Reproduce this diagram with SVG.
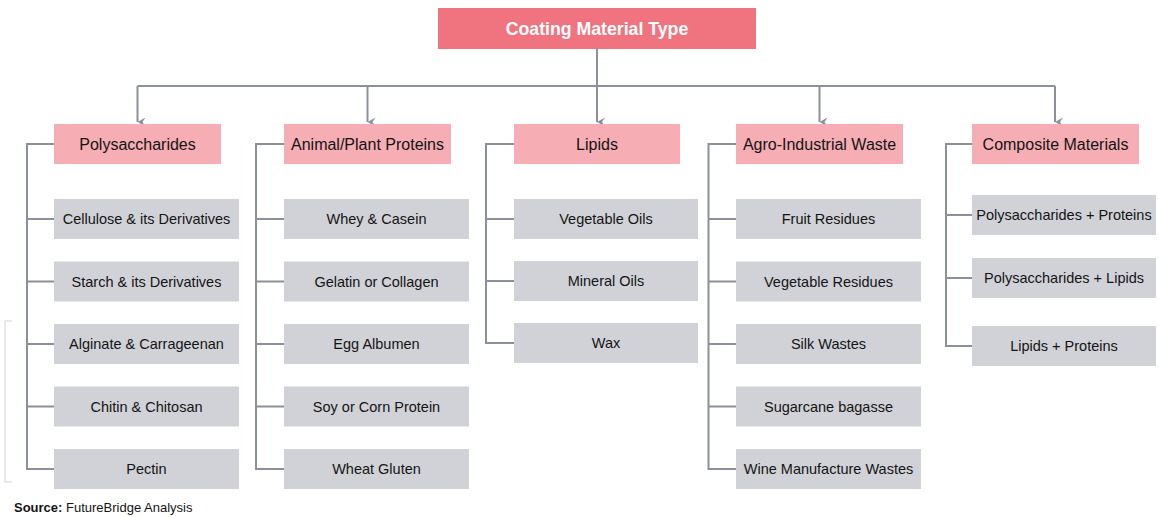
<svg xmlns="http://www.w3.org/2000/svg" width="1159" height="517" viewBox="0 0 1159 517">
<defs>
<style>
.title{fill:#F07380}
.cat{fill:#F6ADB4}
.item{fill:#D1D2D7}
.tt{font-family:"Liberation Sans",Arial,sans-serif;font-weight:bold;font-size:17.7px;fill:#ffffff;text-anchor:middle}
.ct{font-family:"Liberation Sans",Arial,sans-serif;font-size:16px;fill:#141414;text-anchor:middle}
.it{font-family:"Liberation Sans",Arial,sans-serif;font-size:14.5px;fill:#141414;text-anchor:middle}
.ln{fill:none;stroke:#8C909A;stroke-width:2}
.src{font-family:"Liberation Sans",Arial,sans-serif;font-size:13px;fill:#141414}
</style>
<marker id="arr" viewBox="0 0 10 10" refX="5" refY="10" markerWidth="10" markerHeight="10" markerUnits="userSpaceOnUse" orient="auto-start-reverse">
<path d="M0.5,2 L5,10 L9.5,2 L5,5 Z" fill="#8C909A"/>
</marker>
</defs>
<rect width="1159" height="517" fill="#ffffff"/>

<g id="connectors">
<path class="ln" d="M597,49 V86"/>
<path class="ln" d="M137.5,86 H1055"/>
<path class="ln" d="M137.5,86 V122" marker-end="url(#arr)"/>
<path class="ln" d="M367.5,86 V122" marker-end="url(#arr)"/>
<path class="ln" d="M597,86 V122" marker-end="url(#arr)"/>
<path class="ln" d="M819.5,86 V122" marker-end="url(#arr)"/>
<path class="ln" d="M1055,86 V122" marker-end="url(#arr)"/>
<path class="ln" d="M54,144 H27 V469 H54 M27,219 H54 M27,281.5 H54 M27,344 H54 M27,406.5 H54"/>
<path class="ln" d="M284,144 H256 V469 H284 M256,219 H284 M256,281.5 H284 M256,344 H284 M256,406.5 H284"/>
<path class="ln" d="M514,144 H486 V343 H514 M486,219 H514 M486,281 H514"/>
<path class="ln" d="M736,144 H708.5 V469 H736 M708.5,219 H736 M708.5,281.5 H736 M708.5,344 H736 M708.5,406.5 H736"/>
<path class="ln" d="M972,144 H946 V346 H972 M946,215 H972 M946,278 H972"/>
</g>
<path d="M12,321 H5 V482 H12" fill="none" stroke="#e2e2e2" stroke-width="1.5"/>

<g id="root"><rect class="title" x="438" y="8" width="318" height="41"/><text class="tt" x="597" y="35">Coating Material Type</text></g>

<g id="cat-polysaccharides"><rect class="cat" x="54" y="124" width="167" height="40"/><text class="ct" x="137.5" y="149.7">Polysaccharides</text></g>
<g id="cat-proteins"><rect class="cat" x="284" y="124" width="167" height="40"/><text class="ct" x="367.5" y="149.7">Animal/Plant Proteins</text></g>
<g id="cat-lipids"><rect class="cat" x="514" y="124" width="166" height="40"/><text class="ct" x="597" y="149.7">Lipids</text></g>
<g id="cat-agro"><rect class="cat" x="736" y="124" width="167" height="40"/><text class="ct" x="819.5" y="149.7">Agro-Industrial Waste</text></g>
<g id="cat-composite"><rect class="cat" x="972" y="124" width="167" height="40"/><text class="ct" x="1055.5" y="149.7">Composite Materials</text></g>

<g id="p1"><rect class="item" x="54" y="199" width="185" height="40"/><text class="it" x="146.5" y="224.2">Cellulose &amp; its Derivatives</text></g>
<g id="p2"><rect class="item" x="54" y="261.5" width="185" height="40"/><text class="it" x="146.5" y="286.7">Starch &amp; its Derivatives</text></g>
<g id="p3"><rect class="item" x="54" y="324" width="185" height="40"/><text class="it" x="146.5" y="349.2">Alginate &amp; Carrageenan</text></g>
<g id="p4"><rect class="item" x="54" y="386.5" width="185" height="40"/><text class="it" x="146.5" y="411.7">Chitin &amp; Chitosan</text></g>
<g id="p5"><rect class="item" x="54" y="449" width="185" height="40"/><text class="it" x="146.5" y="474.2">Pectin</text></g>

<g id="a1"><rect class="item" x="284" y="199" width="185" height="40"/><text class="it" x="376.5" y="224.2">Whey &amp; Casein</text></g>
<g id="a2"><rect class="item" x="284" y="261.5" width="185" height="40"/><text class="it" x="376.5" y="286.7">Gelatin or Collagen</text></g>
<g id="a3"><rect class="item" x="284" y="324" width="185" height="40"/><text class="it" x="376.5" y="349.2">Egg Albumen</text></g>
<g id="a4"><rect class="item" x="284" y="386.5" width="185" height="40"/><text class="it" x="376.5" y="411.7">Soy or Corn Protein</text></g>
<g id="a5"><rect class="item" x="284" y="449" width="185" height="40"/><text class="it" x="376.5" y="474.2">Wheat Gluten</text></g>

<g id="l1"><rect class="item" x="514" y="199" width="184" height="40"/><text class="it" x="606" y="224.2">Vegetable Oils</text></g>
<g id="l2"><rect class="item" x="514" y="261" width="184" height="40"/><text class="it" x="606" y="286.2">Mineral Oils</text></g>
<g id="l3"><rect class="item" x="514" y="323" width="184" height="40"/><text class="it" x="606" y="348.2">Wax</text></g>

<g id="g1"><rect class="item" x="736" y="199" width="185" height="40"/><text class="it" x="828.5" y="224.2">Fruit Residues</text></g>
<g id="g2"><rect class="item" x="736" y="261.5" width="185" height="40"/><text class="it" x="828.5" y="286.7">Vegetable Residues</text></g>
<g id="g3"><rect class="item" x="736" y="324" width="185" height="40"/><text class="it" x="828.5" y="349.2">Silk Wastes</text></g>
<g id="g4"><rect class="item" x="736" y="386.5" width="185" height="40"/><text class="it" x="828.5" y="411.7">Sugarcane bagasse</text></g>
<g id="g5"><rect class="item" x="736" y="449" width="185" height="40"/><text class="it" x="828.5" y="474.2">Wine Manufacture Wastes</text></g>

<g id="c1"><rect class="item" x="972" y="195" width="184" height="40"/><text class="it" x="1064" y="220.2">Polysaccharides + Proteins</text></g>
<g id="c2"><rect class="item" x="972" y="258" width="184" height="40"/><text class="it" x="1064" y="283.2">Polysaccharides + Lipids</text></g>
<g id="c3"><rect class="item" x="972" y="326" width="184" height="40"/><text class="it" x="1064" y="351.2">Lipids + Proteins</text></g>

<text class="src" x="14" y="512"><tspan font-weight="bold">Source:</tspan> FutureBridge Analysis</text>
</svg>
